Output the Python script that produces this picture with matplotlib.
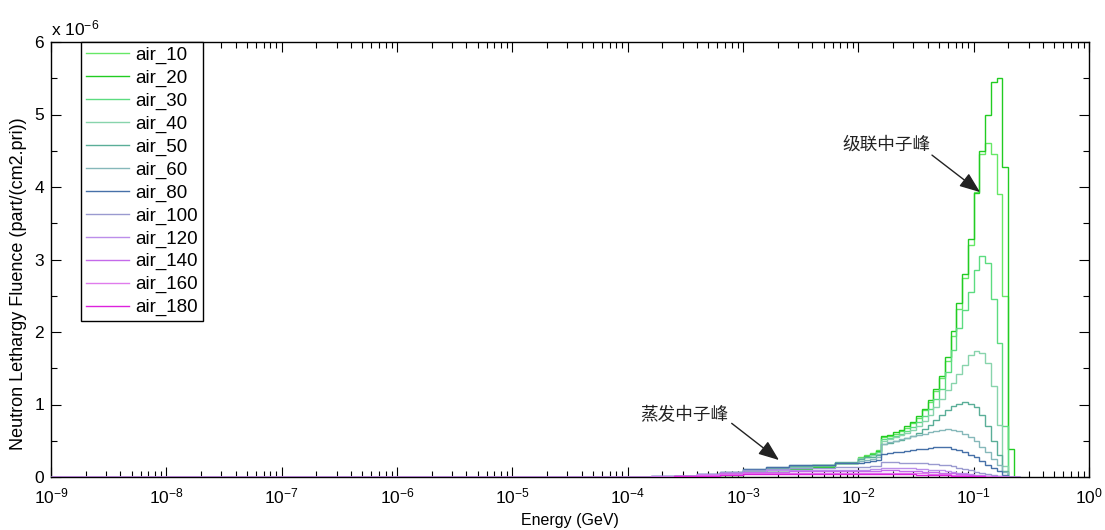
import numpy as np
import matplotlib
matplotlib.use('Agg')
import matplotlib.pyplot as plt
from matplotlib.ticker import (LogLocator, MultipleLocator, FixedLocator, NullFormatter,
                               LogFormatterSciNotation)

plt.rcParams['font.family'] = ['Liberation Sans', 'DejaVu Sans']
plt.rcParams['mathtext.fontset'] = 'custom'
plt.rcParams['mathtext.rm'] = 'Liberation Sans'
plt.rcParams['mathtext.it'] = 'Liberation Sans:italic'
plt.rcParams['mathtext.bf'] = 'Liberation Sans:bold'
plt.rcParams['axes.unicode_minus'] = False

# ---------------- data (fluence in units of 1e-6 part/(cm2.pri)) ----------------
energy_edges = [1e-9, 1.00e-4, 1.58e-4, 2.51e-4, 3.98e-4, 6.31e-4, 1.00e-3, 1.58e-3,
                2.51e-3, 3.98e-3, 6.31e-3, 0.0100, 0.0112, 0.0126, 0.0141, 0.0158,
                0.0178, 0.0200, 0.0224, 0.0251, 0.0282, 0.0316, 0.0355, 0.0398,
                0.0447, 0.0501, 0.0562, 0.0631, 0.0708, 0.0794, 0.0891, 0.1000,
                0.1122, 0.1259, 0.1413, 0.1585, 0.1778, 0.1995, 0.2239, 0.2512]

x_major_ticks = [1e-9, 1e-8, 1e-7, 1e-6, 1e-5, 1e-4, 1e-3, 1e-2, 1e-1, 1e0]
y_major_ticks = [0, 1, 2, 3, 4, 5, 6]

labels = ['air_10', 'air_20', 'air_30', 'air_40', 'air_50', 'air_60',
          'air_80', 'air_100', 'air_120', 'air_140', 'air_160', 'air_180']

air_10 = [0, 0, 0.002, 0.006, 0.012, 0.03, 0.06, 0.09, 0.12, 0.15, 0.20,
          0.27, 0.30, 0.33, 0.37,
          0.55, 0.57, 0.60, 0.63, 0.68, 0.74, 0.82, 0.92, 1.04, 1.18, 1.36, 1.60,
          1.95, 2.32, 2.75, 3.20, 3.93, 4.45, 4.61, 4.45, 3.90, 2.50, 0.0, 0.0]
air_20 = [0, 0, 0.002, 0.005, 0.01, 0.03, 0.06, 0.09, 0.11, 0.14, 0.19,
          0.26, 0.29, 0.32, 0.36,
          0.56, 0.58, 0.62, 0.65, 0.70, 0.76, 0.84, 0.94, 1.06, 1.22, 1.40, 1.66,
          2.02, 2.40, 2.80, 3.28, 3.92, 4.50, 5.00, 5.45, 5.50, 4.27, 0.38, 0.0]
air_30 = [0, 0, 0.003, 0.008, 0.015, 0.035, 0.07, 0.10, 0.13, 0.16, 0.20,
          0.25, 0.28, 0.31, 0.34,
          0.52, 0.54, 0.57, 0.60, 0.64, 0.69, 0.76, 0.84, 0.94, 1.07, 1.22, 1.45,
          1.75, 2.05, 2.30, 2.55, 2.85, 3.05, 2.95, 2.45, 1.85, 0.70, 0.0, 0.0]
air_40 = [0, 0, 0.004, 0.01, 0.02, 0.045, 0.08, 0.11, 0.14, 0.16, 0.20,
          0.26, 0.28, 0.30, 0.32,
          0.50, 0.52, 0.55, 0.58, 0.61, 0.65, 0.70, 0.77, 0.85, 0.96, 1.08, 1.20,
          1.30, 1.42, 1.55, 1.68, 1.74, 1.71, 1.57, 1.25, 0.72, 0.15, 0.0, 0.0]
air_50 = [0, 0.002, 0.006, 0.015, 0.03, 0.06, 0.10, 0.13, 0.15, 0.17, 0.21,
          0.25, 0.27, 0.28, 0.30,
          0.46, 0.47, 0.49, 0.51, 0.54, 0.57, 0.61, 0.66, 0.72, 0.79, 0.86, 0.93,
          0.98, 1.01, 1.03, 1.01, 0.96, 0.86, 0.70, 0.50, 0.30, 0.08, 0.0, 0.0]
air_60 = [0, 0.003, 0.008, 0.02, 0.04, 0.07, 0.11, 0.14, 0.16, 0.17, 0.20,
          0.22, 0.23, 0.25, 0.27,
          0.46, 0.48, 0.50, 0.52, 0.54, 0.56, 0.58, 0.60, 0.62, 0.64, 0.65, 0.66,
          0.65, 0.63, 0.60, 0.55, 0.49, 0.42, 0.34, 0.25, 0.16, 0.07, 0.0, 0.0]
air_80 = [0, 0.003, 0.008, 0.02, 0.04, 0.07, 0.11, 0.14, 0.16, 0.17, 0.19,
          0.20, 0.21, 0.22, 0.23,
          0.32, 0.33, 0.34, 0.35, 0.36, 0.37, 0.38, 0.39, 0.40, 0.41, 0.41, 0.41,
          0.39, 0.37, 0.34, 0.31, 0.27, 0.22, 0.17, 0.12, 0.08, 0.03, 0.0, 0.0]
air_100 = [0, 0.003, 0.008, 0.02, 0.04, 0.065, 0.09, 0.11, 0.12, 0.13, 0.14,
           0.14, 0.14, 0.15, 0.15,
           0.21, 0.21, 0.21, 0.20, 0.20, 0.20, 0.19, 0.19, 0.18, 0.18, 0.17, 0.16,
           0.15, 0.13, 0.11, 0.09, 0.07, 0.05, 0.04, 0.03, 0.02, 0.01, 0.0, 0.0]
air_120 = [0, 0.003, 0.007, 0.018, 0.035, 0.055, 0.075, 0.09, 0.10, 0.10, 0.10,
           0.10, 0.10, 0.11, 0.11,
           0.13, 0.13, 0.13, 0.12, 0.12, 0.12, 0.11, 0.11, 0.10, 0.10, 0.09, 0.08,
           0.07, 0.06, 0.05, 0.04, 0.03, 0.025, 0.02, 0.015, 0.01, 0.005, 0.0, 0.0]
air_140 = [0, 0.002, 0.006, 0.015, 0.03, 0.05, 0.065, 0.075, 0.08, 0.08, 0.08,
           0.08, 0.08, 0.08, 0.08,
           0.09, 0.09, 0.09, 0.085, 0.085, 0.08, 0.08, 0.075, 0.07, 0.065, 0.06, 0.055,
           0.05, 0.04, 0.035, 0.03, 0.02, 0.015, 0.012, 0.01, 0.006, 0.003, 0.0, 0.0]
air_160 = [0, 0.002, 0.005, 0.012, 0.025, 0.04, 0.05, 0.06, 0.06, 0.06, 0.06,
           0.06, 0.06, 0.06, 0.06,
           0.06, 0.06, 0.06, 0.058, 0.056, 0.054, 0.052, 0.05, 0.047, 0.044, 0.04, 0.036,
           0.032, 0.028, 0.024, 0.02, 0.015, 0.011, 0.008, 0.006, 0.004, 0.002, 0.0, 0.0]
air_180 = [0, 0.002, 0.004, 0.01, 0.02, 0.03, 0.04, 0.045, 0.045, 0.045, 0.045,
           0.045, 0.045, 0.045, 0.045,
           0.04, 0.04, 0.04, 0.039, 0.038, 0.036, 0.034, 0.032, 0.03, 0.028, 0.026, 0.023,
           0.02, 0.018, 0.015, 0.012, 0.01, 0.007, 0.005, 0.004, 0.003, 0.001, 0.0, 0.0]

series = [air_10, air_20, air_30, air_40, air_50, air_60,
          air_80, air_100, air_120, air_140, air_160, air_180]

colors = ['#66E866', '#22CC22', '#5CDC80', '#88D4AC', '#5AAE98', '#86B8BA',
          '#4670A8', '#9A9AD0', '#BC8EEA', '#C46AEA', '#E07CEC', '#DD22DD']

# ---------------- figure ----------------
fig = plt.figure(figsize=(11.05, 5.30), dpi=100)
ax = fig.add_axes([51 / 1105, 53 / 530, 1038 / 1105, 435 / 530])

for vals, lab, col in zip(series, labels, colors):
    ax.stairs(vals, energy_edges, baseline=None, color=col, lw=1.0,
              label=lab, zorder=3)

ax.set_xscale('log')
ax.set_xlim(1e-9, 1e0)
ax.set_ylim(0, 6)

ax.xaxis.set_major_locator(FixedLocator(x_major_ticks))
ax.xaxis.set_major_formatter(LogFormatterSciNotation())
ax.xaxis.set_minor_locator(LogLocator(base=10, subs=(2, 3, 4, 5, 6, 7, 8, 9), numticks=20))
ax.xaxis.set_minor_formatter(NullFormatter())
ax.yaxis.set_major_locator(FixedLocator(y_major_ticks))
ax.yaxis.set_minor_locator(MultipleLocator(0.5))

ax.tick_params(which='both', direction='in', top=True, right=True, colors='black')
ax.tick_params(which='major', length=7, width=0.8, labelsize=12.5)
ax.tick_params(which='minor', length=4, width=0.8)
ax.tick_params(axis='x', which='major', pad=7)
ax.tick_params(axis='y', which='major', pad=5)
for sp in ax.spines.values():
    sp.set_linewidth(1.0)
    sp.set_color('black')

ax.set_xlabel('Energy (GeV)', fontsize=11.5)
ax.xaxis.set_label_coords(0.5, -0.083)
ax.set_ylabel('Neutron Lethargy Fluence (part/(cm2.pri))', fontsize=13)
ax.yaxis.set_label_coords(-0.023, 0.444)

ax.text(0.0, 1.008, r'x $\mathdefault{10^{-6}}$', transform=ax.transAxes,
        fontsize=12.5, ha='left', va='bottom')

leg = ax.legend(loc='upper left', bbox_to_anchor=(0.029, 1.0), fontsize=13.5,
                frameon=True, fancybox=False, edgecolor='black', framealpha=1,
                handlelength=2.3, handletextpad=0.35, labelspacing=0.30,
                borderpad=0.25, borderaxespad=0)
leg.get_frame().set_linewidth(1.0)
leg.set_zorder(5)

cjk = ['Noto Sans CJK SC', 'DejaVu Sans']
arrow_kw = dict(arrowstyle='-|>,head_length=0.9,head_width=0.35', color='#222222',
                lw=1.0, shrinkA=0, shrinkB=0, mutation_scale=14)

ax.text(7.23e-3, 4.58, '级联中子峰', family=cjk, fontsize=12.7, ha='left', va='center',
        color='#222222')
ax.annotate('', xy=(0.1135, 3.93), xytext=(0.0435, 4.44), arrowprops=arrow_kw, zorder=6)

ax.text(1.28e-4, 0.855, '蒸发中子峰', family=cjk, fontsize=12.7, ha='left', va='center',
        color='#222222')
ax.annotate('', xy=(2.05e-3, 0.234), xytext=(7.98e-4, 0.74), arrowprops=arrow_kw, zorder=6)

fig.savefig('out.png', dpi=100, facecolor='white')
